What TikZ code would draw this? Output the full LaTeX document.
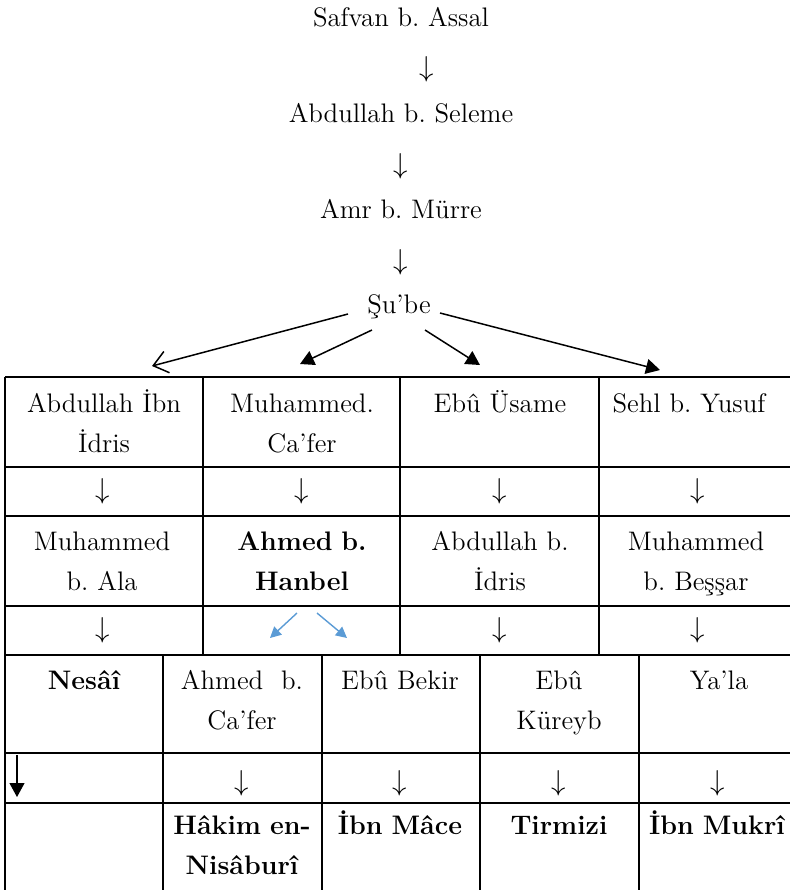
\documentclass[tikz,border=0pt]{standalone}
\usepackage{tikz}
\usetikzlibrary{arrows.meta,positioning}
\definecolor{hanbelblue}{HTML}{5B9BD5}
\frenchspacing

\begin{document}
\begin{tikzpicture}[x=0.5pt,y=-0.5pt,
	every node/.style={font=\fontsize{13.4}{20}\selectfont,inner sep=0pt},
	ravi/.style={anchor=base},
	hucre/.style={anchor=base,text width=#1,align=center},
	hucre/.default=72pt,
	ok/.style={},
	tablo/.style={line width=1pt},
	dal/.style={line width=0.75pt},
	kol/.style={dal,-{Triangle[length=7pt,width=7.5pt]}}]
	\useasboundingbox (0,0) rectangle (790,890);
	% chain above the table
	\node[ravi] (safvan) at (401,26) {Safvan b. Assal};
	\node[ok] (d1) at (427,69) {$\downarrow$};
	\node[ravi] (seleme) at (401,122) {Abdullah b. Seleme};
	\node[ok] (d2) at (401,166) {$\downarrow$};
	\node[ravi] (murre) at (401,218) {Amr b. Mürre};
	\node[ok] (d3) at (401,262) {$\downarrow$};
	\node[ravi] (sube) at (399,313) {Şu’be};
	% table lines
	\draw[tablo] (5,377) -- (790,377) (5,467) -- (790,467) (5,516) -- (790,516)
		(5,606) -- (790,606) (5,655) -- (790,655) (5,753) -- (790,753) (5,803) -- (790,803);
	\draw[tablo] (5,377) -- (5,890);
	\foreach \x in {203,400,599} \draw[tablo] (\x,377) -- (\x,655);
	\foreach \x in {163,322,480,639} \draw[tablo] (\x,655) -- (\x,890);
	% upper rows
	\node[hucre=90pt] (idris) at (104,412) {Abdullah İbn\\İdris};
	\node[hucre=90pt] (cafer) at (302,412) {Muhammed.\\Ca’fer};
	\node[hucre=90pt] (usame) at (500,412) {Ebû Üsame};
	\node[hucre=90pt] (sehl) at (689,412) {Sehl b. Yusuf};
	\node[ok] (u1) at (103,491) {$\downarrow$};
	\node[ok] (u2) at (302,491) {$\downarrow$};
	\node[ok] (u3) at (500,491) {$\downarrow$};
	\node[ok] (u4) at (698,491) {$\downarrow$};
	\node[hucre=90pt] (ala) at (102,550) {Muhammed\\b. Ala};
	\node[hucre=90pt] (hanbel) at (302,550) {\bfseries Ahmed b.\\Hanbel};
	\node[hucre=90pt] (abdullah) at (500,550) {Abdullah b.\\İdris};
	\node[hucre=90pt] (bessar) at (696,550) {Muhammed\\b. Beşşar};
	\node[ok] (v1) at (103,630) {$\downarrow$};
	\node[ok] (v3) at (500,630) {$\downarrow$};
	\node[ok] (v4) at (698,630) {$\downarrow$};
	% lower rows
	\node[hucre] (nesai) at (84,689) {\bfseries Nesâî};
	\node[hucre] (ahmed) at (242,689) {Ahmed~~b.\\Ca’fer};
	\node[hucre] (bekir) at (400,689) {Ebû Bekir};
	\node[hucre] (kureyb) at (559,689) {Ebû\\Küreyb};
	\node[hucre] (yala) at (719,689) {Ya’la};
	\node[ok] (w2) at (242,783) {$\downarrow$};
	\node[ok] (w3) at (400,783) {$\downarrow$};
	\node[ok] (w4) at (559,783) {$\downarrow$};
	\node[ok] (w5) at (718,783) {$\downarrow$};
	\node[hucre] (hakim) at (242,834) {\bfseries Hâkim en-\\Nisâburî};
	\node[hucre] (mace) at (400,834) {\bfseries İbn Mâce};
	\node[hucre] (tirmizi) at (559,834) {\bfseries Tirmizi};
	\node[hucre] (mukri) at (717,834) {\bfseries İbn Mukrî};
	% arrow ends
	\coordinate (s1) at (348,314);
	\coordinate (s2) at (372,330);
	\coordinate (s3) at (425,330);
	\coordinate (s4) at (440,313);
	\coordinate (t1) at (152,366);
	\coordinate (t2) at (300,364);
	\coordinate (t3) at (480,365);
	\coordinate (t4) at (660,370);
	\coordinate (h0) at (297,613);
	\coordinate (h1) at (270,638);
	\coordinate (h2) at (317,613);
	\coordinate (h3) at (347,638);
	\coordinate (n0) at (17,755);
	\coordinate (n1) at (17,797);
	\draw (s1) edge[dal,-{Straight Barb[length=7pt,width=11pt]}] (t1)
		(s2) edge[kol] (t2)
		(s3) edge[kol] (t3)
		(s4) edge[kol] (t4)
		(h0) edge[hanbelblue,line width=0.7pt,-{Triangle[length=5.5pt,width=5.5pt]}] (h1)
		(h2) edge[hanbelblue,line width=0.7pt,-{Triangle[length=5.5pt,width=5.5pt]}] (h3)
		(n0) edge[line width=0.6pt,-{Triangle[length=7pt,width=7.5pt]}] (n1);
\end{tikzpicture}
\end{document}
